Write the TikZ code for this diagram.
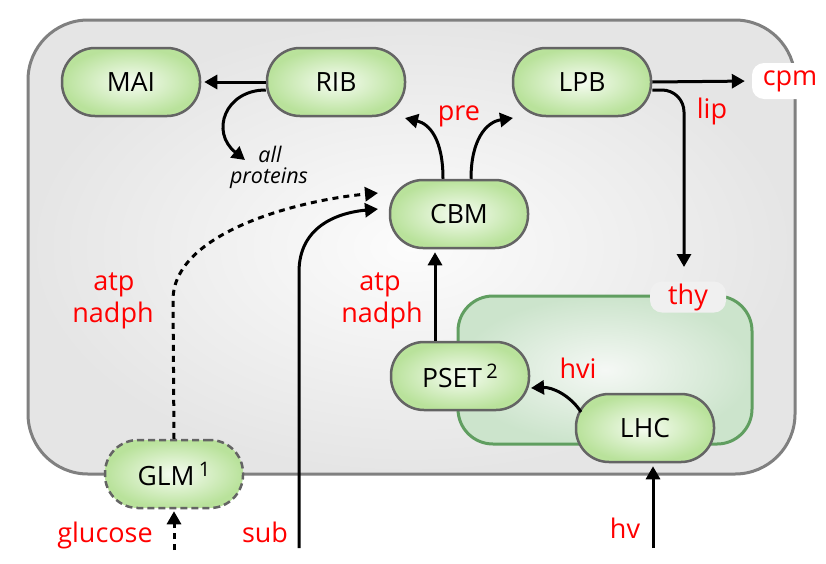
\documentclass[tikz,border=0pt]{standalone}
\usepackage{fontspec}
\setmainfont{Open Sans}
\usetikzlibrary{arrows.meta}
\definecolor{ngreen}{RGB}{185,226,155}
\definecolor{ncenter}{RGB}{246,252,242}
\definecolor{nborder}{RGB}{100,100,100}
\definecolor{cellborder}{RGB}{128,128,128}
\definecolor{cellout}{RGB}{229,229,229}
\definecolor{cellin}{RGB}{252,252,252}
\definecolor{thyborder}{RGB}{96,158,96}
\definecolor{thyout}{RGB}{204,228,204}
\definecolor{thyin}{RGB}{245,248,245}
\definecolor{lblred}{RGB}{255,0,0}
\definecolor{thyfill}{RGB}{240,240,240}
\newcommand{\mysup}[1]{\raisebox{0.36em}{\fontsize{20}{20}\selectfont #1}}
\tikzset{
  proc/.style={draw=nborder, line width=2.5pt, rounded corners=33pt,
    minimum width=138pt, minimum height=68pt, inner sep=0pt,
    inner color=ncenter, outer color=ngreen, font=\fontsize{26.5}{28}\selectfont},
  redlabel/.style={text=lblred, font=\fontsize{27}{30}\selectfont, inner sep=0pt},
  itlabel/.style={font=\itshape\fontsize{21.5}{22}\selectfont, inner sep=0pt},
  arr/.style={line width=3pt, -{Triangle[length=13pt,width=14pt]}},
  darr/.style={arr, dash pattern=on 6pt off 5pt},
}
\begin{document}
\begin{tikzpicture}[x=1pt,y=-1pt]
\useasboundingbox (0,0) rectangle (826,563);
% cell
\path[draw=cellborder, line width=3pt, inner color=cellin, outer color=cellout, rounded corners=60pt]
  (28,20) rectangle (795,474);
% thylakoid
\path[draw=thyborder, line width=3pt, inner color=thyin, outer color=thyout, rounded corners=35pt]
  (458,296) rectangle (752,444);
\node[redlabel, fill=thyfill, rounded corners=12pt, minimum width=76pt, minimum height=31pt] (thy) at (688,297) {thy};
\node[redlabel, fill=white, rounded corners=12pt, minimum width=76pt, minimum height=36pt] (cpm) at (790,81) {cpm};
% nodes
\node[proc] (MAI) at (131,82) {MAI};
\node[proc] (RIB) at (336,82) {RIB};
\node[proc] (LPB) at (582,82) {LPB};
\node[proc] (CBM) at (459,214) {CBM};
\node[proc] (PSET) at (460,376) {PSET\,\mysup{2}};
\node[proc] (LHC) at (645,428) {LHC};
\node[proc, dash pattern=on 7pt off 4pt] (GLM) at (174,474) {GLM\,\mysup{1}};
% labels
\node[redlabel, anchor=base] (pre) at (459,120) {pre};
\node[redlabel, anchor=base] (lip) at (712,118) {lip};
\node[redlabel, anchor=base] (hvi) at (578,378) {hvi};
\node[redlabel, anchor=base] (hv) at (625,538) {hv};
\node[redlabel, anchor=base] (sub) at (265,542) {sub};
\node[redlabel, anchor=base] (glucose) at (105,542) {glucose};
\node[redlabel, anchor=base] (atpL) at (114,290) {atp};
\node[redlabel, anchor=base] (nadphL) at (113,322) {nadph};
\node[redlabel, anchor=base] (atpR) at (380,290) {atp};
\node[redlabel, anchor=base] (nadphR) at (382,322) {nadph};
\node[itlabel, anchor=base] (allA) at (270,162) {all};
\node[itlabel, anchor=base] (allB) at (269,183) {proteins};
% free ends
\coordinate (apEnd) at (245,160);
\coordinate (preL) at (405,118);
\coordinate (preR) at (513,118);
\coordinate (lipEnd) at (684,267);
\coordinate (subS) at (299,548);
\coordinate (subE) at (378,209);
\coordinate (glmE) at (378,193);
\coordinate (glcS) at (174,550);
\coordinate (lhcS) at (581,412);
\coordinate (pseIn) at (531,388);
\coordinate (hvS) at (653,548);
% connectors
\draw[arr, shorten >=3pt] (RIB.west) -- (MAI.east);
\draw[arr] ([yshift=-8pt]RIB.west) .. controls (225,90) and (210,132) .. (apEnd);
\draw[arr] ([xshift=-16pt]CBM.north) .. controls (443,140) and (430,124) .. (preL);
\draw[arr] ([xshift=12pt]CBM.north) .. controls (471,140) and (486,122) .. (preR);
\draw[arr, shorten >=7pt] (LPB.east) -- (cpm.west);
\draw[arr, rounded corners=22pt] ([yshift=-8pt]LPB.east) -| (lipEnd);
\draw[arr] (subS) -- (299,272) .. controls (299,228) and (335,213) .. (subE);
\draw[darr] (GLM.north) -- (173,300) .. controls (173,232) and (300,200) .. (glmE);
\draw[darr, shorten >=2pt] (glcS) -- (GLM.south);
\draw[arr, shorten >=3pt] ([xshift=-25pt]PSET.north) -- ([xshift=-24pt]CBM.south);
\draw[arr] (lhcS) .. controls (570,395) and (552,387) .. (pseIn);
\draw[arr, shorten >=3pt] (hvS) -- ([xshift=8pt]LHC.south);
\end{tikzpicture}
\end{document}
